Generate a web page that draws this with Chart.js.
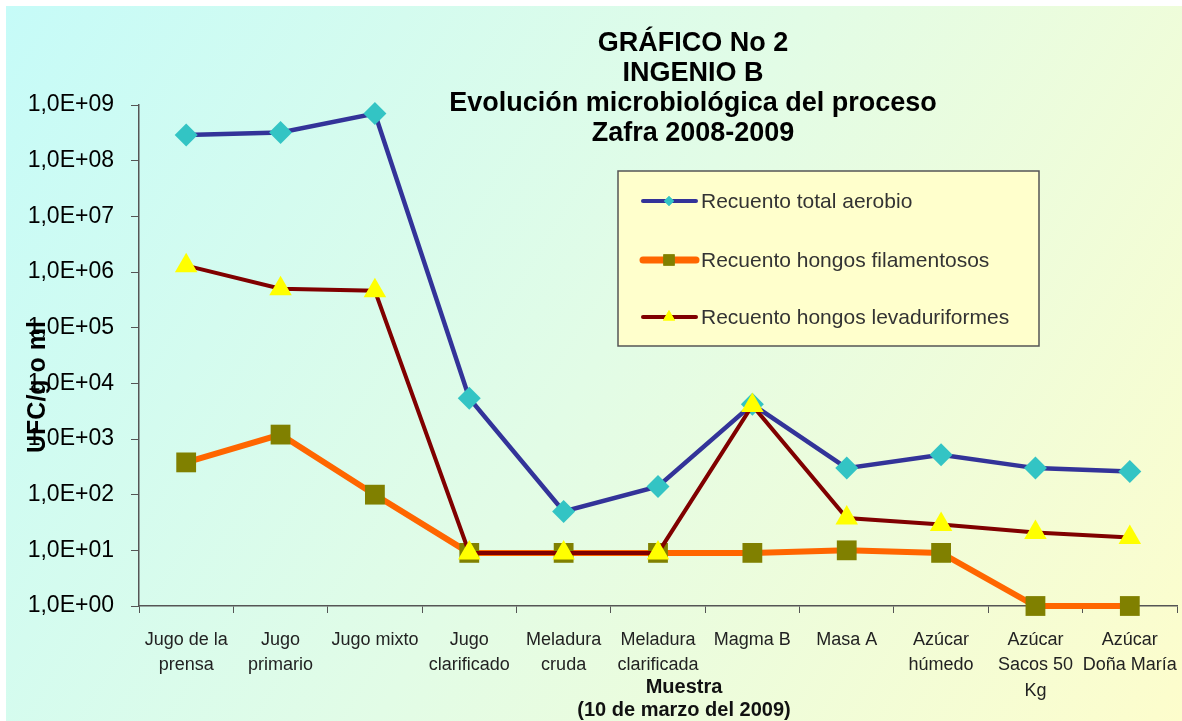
<!DOCTYPE html>
<html lang="es">
<head>
  <meta charset="UTF-8">
  <title>Gráfico No 2 - Ingenio B</title>
  <script src="https://cdn.jsdelivr.net/npm/chart.js"></script>
  <style>
    body {
      margin: 0;
      background: #fff;
    }
    #caja {
      width: 1182px;
      height: 721px;
    }
  </style>
</head>
<body>
  <div id="caja"><canvas id="grafico" width="1182" height="721"></canvas></div>

  <script>
    // datos (UFC/g o ml)
    const muestras = [
      ['Jugo de la', 'prensa'], ['Jugo', 'primario'], 'Jugo mixto', ['Jugo', 'clarificado'],
      ['Meladura', 'cruda'], ['Meladura', 'clarificada'], 'Magma B', 'Masa A',
      ['Azúcar', 'húmedo'], ['Azúcar', 'Sacos 50', 'Kg'], ['Azúcar', 'Doña María']
    ];
    const aerobio = [2.9e8, 3.2e8, 7.0e8, 5.4e3, 50, 140, 4.2e3, 300, 520, 300, 260];
    const filamentosos = [380, 1200, 100, 9, 9, 9, 9, 10, 9, 1, 1];
    const levaduriformes = [1.3e6, 5.0e5, 4.6e5, 9, 9, 9, 4.0e3, 38, 29, 21, 17];
    const exponentes = [0, 1, 2, 3, 4, 5, 6, 7, 8, 9];

    const titulo = ['GRÁFICO No 2', 'INGENIO B', 'Evolución microbiológica del proceso', 'Zafra 2008-2009'];
    const tituloX = ['Muestra', '(10 de marzo del 2009)'];
    const tituloY = 'UFC/g o ml';

    const FUENTE = '"Liberation Sans", Arial, sans-serif';
    Chart.defaults.font.family = FUENTE;

    const fondo = {
      id: 'fondo',
      beforeDraw(chart) {
        const c = chart.ctx;
        c.save();
        c.fillStyle = '#ffffff';
        c.fillRect(0, 0, chart.width, chart.height);
        const g = c.createLinearGradient(6, 6, chart.width, chart.height);
        g.addColorStop(0, '#c6fbf8');
        g.addColorStop(0.5, '#e2fce6');
        g.addColorStop(1, '#fdfdcc');
        c.fillStyle = g;
        c.fillRect(6, 6, chart.width - 6, chart.height - 6);
        c.restore();
      }
    };

    const textos = {
      id: 'textos',
      afterDraw(chart) {
        const c = chart.ctx;
        c.save();
        c.fillStyle = '#000';
        c.textAlign = 'center';
        c.textBaseline = 'middle';
        c.font = 'bold 27px ' + FUENTE;
        titulo.forEach((t, i) => c.fillText(t, 693, 44 + i * 30));

        c.font = 'bold 20px ' + FUENTE;
        c.fillStyle = '#111';
        tituloX.forEach((t, i) => c.fillText(t, 684, 687 + i * 23));

        c.save();
        c.translate(38, 387);
        c.rotate(-Math.PI / 2);
        c.font = 'bold 25px ' + FUENTE;
        c.fillStyle = '#000';
        c.fillText(tituloY, 0, 0);
        c.restore();

        // leyenda
        c.fillStyle = '#ffffcc';
        c.strokeStyle = '#555';
        c.lineWidth = 1.5;
        c.fillRect(618, 171, 421, 175);
        c.strokeRect(618, 171, 421, 175);
        const filas = [201, 260, 317];
        chart.data.datasets.forEach((ds, i) => {
          const y = filas[i];
          c.beginPath();
          c.lineCap = 'round';
          c.strokeStyle = ds.borderColor;
          c.lineWidth = ds.leyendaAncho;
          c.moveTo(643, y);
          c.lineTo(696, y);
          c.stroke();
          c.fillStyle = ds.pointBackgroundColor;
          Chart.helpers.drawPoint(c, { pointStyle: ds.pointStyle, radius: ds.leyendaRadio, borderWidth: 0 }, 669, y);
          c.fill();
          c.fillStyle = '#333';
          c.textAlign = 'left';
          c.font = '21px ' + FUENTE;
          c.fillText(ds.label, 701, y + 1);
        });
        c.restore();
      }
    };

    const grafico = new Chart(document.getElementById('grafico'), {
      type: 'line',
      data: {
        labels: muestras,
        datasets: [
          {
            label: 'Recuento total aerobio',
            data: aerobio,
            borderColor: '#333399',
            borderWidth: 4.5,
            pointStyle: 'rectRot',
            pointRadius: 11.5,
            pointBackgroundColor: '#33c4c4',
            pointBorderWidth: 0,
            leyendaAncho: 4,
            leyendaRadio: 5,
            clip: false,
            order: 2
          },
          {
            label: 'Recuento hongos filamentosos',
            data: filamentosos,
            borderColor: '#ff6600',
            borderWidth: 6,
            pointStyle: 'rect',
            pointRadius: 14,
            pointBackgroundColor: '#808000',
            pointBorderWidth: 0,
            leyendaAncho: 7,
            leyendaRadio: 8,
            clip: false,
            order: 3
          },
          {
            label: 'Recuento hongos levaduriformes',
            data: levaduriformes,
            borderColor: '#800000',
            borderWidth: 4,
            pointStyle: 'triangle',
            pointRadius: 13,
            pointBackgroundColor: '#ffff00',
            pointBorderWidth: 0,
            leyendaAncho: 4,
            leyendaRadio: 7,
            clip: false,
            order: 1
          }
        ]
      },
      options: {
        responsive: false,
        animation: false,
        tension: 0,
        layout: { autoPadding: false, padding: { left: 6, top: 105, right: 5, bottom: 0 } },
        plugins: {
          legend: { display: false },
          title: { display: false },
          tooltip: { enabled: false }
        },
        scales: {
          x: {
            offset: true,
            grid: { drawOnChartArea: false, drawTicks: true, tickLength: 7, color: '#555', offset: true },
            border: { color: '#555', width: 1.5 },
            ticks: {
              color: '#222',
              maxRotation: 0,
              autoSkip: false,
              padding: 14,
              font: { size: 18, lineHeight: 1.42 }
            },
            afterFit(scale) {
              scale.height = 115;
              scale.paddingLeft = 0;
              scale.paddingRight = 0;
            }
          },
          y: {
            type: 'logarithmic',
            min: 1,
            max: 1e9,
            grid: { drawOnChartArea: false, drawTicks: true, tickLength: 8, color: '#555' },
            border: { color: '#555', width: 1.5 },
            afterBuildTicks(scale) {
              scale.ticks = exponentes.map(e => ({ value: Math.pow(10, e) }));
            },
            ticks: {
              color: '#000',
              padding: 17,
              font: { size: 23 },
              callback(v) {
                const e = Math.round(Math.log10(v));
                return '1,0E+' + String(e).padStart(2, '0');
              }
            },
            afterFit(scale) { scale.width = 133; }
          }
        }
      },
      plugins: [fondo, textos]
    });
  </script>
</body>
</html>
